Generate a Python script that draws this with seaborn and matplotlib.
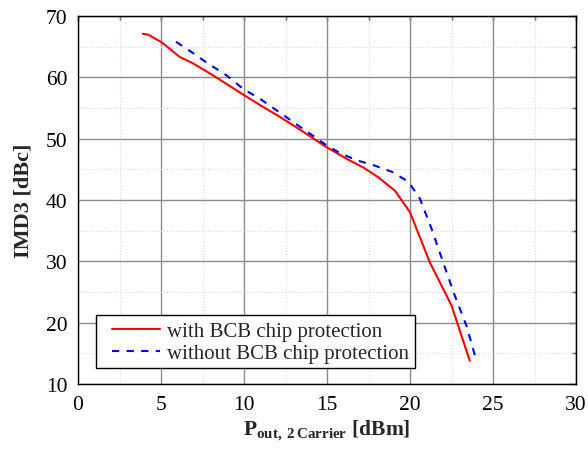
import matplotlib
matplotlib.use("Agg")
import matplotlib.pyplot as plt
import seaborn as sns
import pandas as pd
from matplotlib.ticker import MultipleLocator
from matplotlib.patches import Rectangle

x_with = [3.9, 4.24, 5.04, 6.14, 6.85, 8.15, 10.06, 11.07, 12.07, 13.07, 14.08, 14.98,
          16.19, 17.19, 18.09, 19.1, 20.0, 20.6, 21.2, 22.5, 23.6]
y_with = [67.1, 66.95, 65.7, 63.3, 62.4, 60.3, 57.0, 55.3, 53.7, 52.0, 50.2, 48.6,
          46.7, 45.3, 43.7, 41.5, 38.0, 33.9, 29.8, 22.8, 13.8]
x_without = [5.9, 6.85, 7.75, 8.96, 9.96, 10.96, 11.97, 12.97, 13.98, 14.98, 15.88, 16.89,
             17.89, 18.9, 19.9, 20.6, 21.3, 22.0, 22.7, 23.4, 24.0]
y_without = [65.8, 64.1, 62.4, 60.3, 58.1, 56.5, 54.6, 52.7, 50.8, 48.9, 47.5, 46.4,
             45.6, 44.6, 43.0, 40.2, 35.3, 29.8, 24.4, 19.5, 13.8]
labels = ["with BCB chip protection", "without BCB chip protection"]

sns.set_style("white")
plt.rcParams['font.family'] = ['Liberation Serif', 'DejaVu Serif']
plt.rcParams['mathtext.fontset'] = 'custom'
plt.rcParams['mathtext.rm'] = 'Liberation Serif'
plt.rcParams['mathtext.bf'] = 'Liberation Serif:bold'

df = pd.concat([
    pd.DataFrame({"x": x_with, "y": y_with, "s": labels[0]}),
    pd.DataFrame({"x": x_without, "y": y_without, "s": labels[1]}),
])

fig = plt.figure(figsize=(5.88, 4.56), dpi=100)
ax = fig.add_axes([0.1327, 0.1557, 0.8469, 0.807])

ax.set_xlim(0, 30)
ax.set_ylim(10, 70)
ax.xaxis.set_major_locator(MultipleLocator(5))
ax.xaxis.set_minor_locator(MultipleLocator(2.5))
ax.yaxis.set_major_locator(MultipleLocator(10))
ax.yaxis.set_minor_locator(MultipleLocator(5))
ax.grid(True, which='major', color='#8c8c8c', linewidth=1.0, linestyle='-')
ax.grid(True, which='minor', color='#d8d8d8', linewidth=0.8, linestyle=':')
ax.set_axisbelow(True)

sns.lineplot(data=df, x="x", y="y", hue="s", style="s", sort=False,
             palette={labels[0]: "#ff0000", labels[1]: "#0000ff"},
             dashes={labels[0]: "", labels[1]: (3.5, 3.5)}, linewidth=1.5, ax=ax,
             estimator=None)

for sp in ax.spines.values():
    sp.set_color('black')
    sp.set_linewidth(1.0)
ax.tick_params(which='major', direction='inout', length=10, width=1.0, colors='black',
               labelsize=15.5, pad=3)
ax.tick_params(which='minor', direction='inout', length=6, width=1.0, colors='black')
ax.tick_params(axis='y', which='major', pad=2.5)

secx = ax.secondary_xaxis('top')
secx.xaxis.set_major_locator(MultipleLocator(5))
secx.xaxis.set_minor_locator(MultipleLocator(2.5))
secx.tick_params(which='major', direction='in', length=3.5, width=1.0, labeltop=False)
secx.tick_params(which='minor', direction='in', length=3, width=1.0)
secy = ax.secondary_yaxis('right')
secy.yaxis.set_major_locator(MultipleLocator(10))
secy.yaxis.set_minor_locator(MultipleLocator(5))
secy.tick_params(which='major', direction='in', length=5, width=1.0, labelright=False)
secy.tick_params(which='minor', direction='in', length=3, width=1.0)

ax.set_xlabel(r'$\mathbf{P}_{\mathbf{out,\,2\,Carrier}}$ [dBm]', fontsize=15.5,
              fontweight='bold', labelpad=2)
ax.set_ylabel('IMD3 [dBc]', fontsize=16, fontweight='bold', labelpad=9)

frame = Rectangle((0.0361, 0.0435), 0.6406, 0.144, transform=ax.transAxes,
                  facecolor='white', edgecolor='black', linewidth=1.0, zorder=5)
ax.add_patch(frame)
leg = ax.legend(loc='center left', bbox_to_anchor=(0.0683, 0.1128), fontsize=15,
                frameon=False, borderpad=0, handlelength=2.3, handletextpad=0.33,
                labelspacing=0.1, borderaxespad=0)
leg.set_zorder(6)

fig.savefig("out.png", dpi=100)
